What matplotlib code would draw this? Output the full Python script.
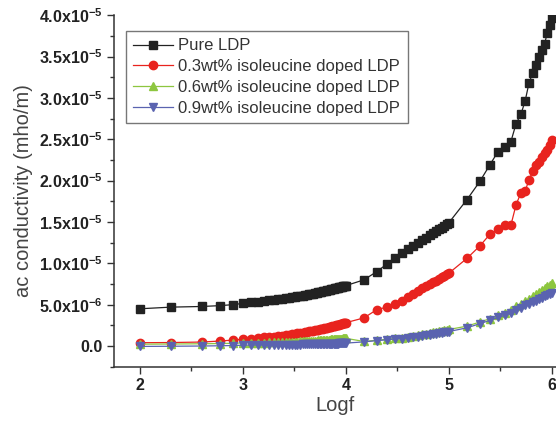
import numpy as np
import matplotlib
matplotlib.use("Agg")
import matplotlib.pyplot as plt
from matplotlib.ticker import MultipleLocator, FixedLocator

plt.rcParams["font.family"] = ["Liberation Sans", "DejaVu Sans"]
plt.rcParams["mathtext.fontset"] = "custom"
plt.rcParams["mathtext.rm"] = "Liberation Sans"
plt.rcParams["mathtext.bf"] = "Liberation Sans:bold"

# log10 of measuring frequency (Hz)
logf = [2.0, 2.301, 2.602, 2.778, 2.903, 3.0,
        3.079, 3.146, 3.204, 3.255, 3.301, 3.342, 3.380, 3.415, 3.447, 3.477,
        3.505, 3.531, 3.556, 3.580, 3.602, 3.623, 3.643, 3.663, 3.681, 3.699,
        3.716, 3.732, 3.748, 3.763, 3.778, 3.792, 3.806, 3.820, 3.833, 3.845,
        3.857, 3.869, 3.881, 3.892, 3.903, 3.914, 3.924, 3.934, 3.944, 3.954,
        3.964, 3.973, 3.982, 3.991, 4.0,
        4.176, 4.301, 4.398, 4.477, 4.544, 4.602, 4.653, 4.699, 4.740, 4.778,
        4.813, 4.845, 4.875, 4.903, 4.929, 4.954, 4.978, 5.0,
        5.176, 5.301, 5.398, 5.477, 5.544, 5.602, 5.653, 5.699, 5.740, 5.778,
        5.813, 5.845, 5.875, 5.903, 5.929, 5.954, 5.978, 6.0]

# ac conductivity in units of 1e-6 mho/m
pure = [4.5, 4.7, 4.78, 4.88, 5.0, 5.15,
        5.28, 5.38, 5.46, 5.53, 5.60, 5.66, 5.72, 5.78, 5.83, 5.88,
        5.94, 5.99, 6.04, 6.09, 6.14, 6.19, 6.24, 6.29, 6.33, 6.38,
        6.42, 6.47, 6.51, 6.55, 6.60, 6.64, 6.68, 6.72, 6.76, 6.80,
        6.84, 6.88, 6.92, 6.96, 7.00, 7.03, 7.06, 7.09, 7.12, 7.14,
        7.17, 7.20, 7.23, 7.26, 7.30,
        8.0, 9.0, 9.9, 10.6, 11.2, 11.7, 12.1, 12.5, 12.8, 13.1,
        13.4, 13.7, 13.9, 14.1, 14.3, 14.5, 14.7, 14.9,
        17.7, 19.9, 21.9, 23.5, 24.1, 24.7, 26.9, 28.0, 29.6, 31.8,
        33.0, 34.0, 35.0, 35.8, 36.5, 37.8, 38.8, 39.6]

doped_03 = [0.40, 0.42, 0.48, 0.60, 0.72, 0.82,
            0.90, 0.97, 1.03, 1.09, 1.15, 1.21, 1.27, 1.33, 1.38, 1.43,
            1.48, 1.53, 1.58, 1.63, 1.68, 1.72, 1.77, 1.81, 1.85, 1.89,
            1.93, 1.97, 2.01, 2.05, 2.09, 2.13, 2.17, 2.21, 2.25, 2.29,
            2.33, 2.37, 2.41, 2.45, 2.49, 2.53, 2.56, 2.60, 2.63, 2.67,
            2.70, 2.73, 2.76, 2.79, 2.82,
            3.4, 4.4, 4.7, 5.1, 5.5, 5.9, 6.3, 6.7, 7.0, 7.3,
            7.5, 7.7, 7.9, 8.1, 8.3, 8.5, 8.65, 8.8,
            10.6, 12.1, 13.5, 14.1, 14.6, 14.6, 17.1, 18.5, 18.7, 20.1,
            21.1, 21.9, 22.3, 22.9, 23.3, 23.7, 24.3, 24.9]

doped_06 = [0.22, 0.24, 0.27, 0.30, 0.33, 0.37,
            0.40, 0.41, 0.42, 0.44, 0.45, 0.46, 0.48, 0.49, 0.50, 0.52,
            0.53, 0.54, 0.56, 0.57, 0.58, 0.60, 0.61, 0.62, 0.64, 0.65,
            0.66, 0.68, 0.69, 0.70, 0.72, 0.73, 0.74, 0.76, 0.77, 0.78,
            0.80, 0.81, 0.82, 0.83, 0.84, 0.85, 0.86, 0.87, 0.88, 0.89,
            0.90, 0.91, 0.92, 0.92, 0.93,
            0.55, 0.7, 0.82, 0.92, 1.0, 1.1, 1.2, 1.3, 1.4, 1.5,
            1.6, 1.65, 1.7, 1.8, 1.85, 1.9, 1.95, 2.0,
            2.4, 2.9, 3.3, 3.7, 4.0, 4.4, 4.8, 5.1, 5.4, 5.7,
            6.0, 6.3, 6.5, 6.8, 7.0, 7.2, 7.4, 7.6]

doped_09 = [-0.05, -0.03, 0.0, 0.03, 0.06, 0.10,
            0.12, 0.13, 0.13, 0.14, 0.14, 0.15, 0.15, 0.16, 0.16, 0.17,
            0.17, 0.18, 0.18, 0.19, 0.19, 0.20, 0.20, 0.21, 0.21, 0.22,
            0.22, 0.23, 0.23, 0.24, 0.24, 0.25, 0.25, 0.26, 0.26, 0.27,
            0.27, 0.28, 0.28, 0.29, 0.29, 0.30, 0.30, 0.31, 0.31, 0.32,
            0.32, 0.33, 0.33, 0.34, 0.35,
            0.5, 0.65, 0.75, 0.85, 0.9, 1.0, 1.05, 1.15, 1.2, 1.3,
            1.35, 1.4, 1.5, 1.55, 1.6, 1.65, 1.7, 1.75,
            2.2, 2.7, 3.1, 3.45, 3.7, 4.0, 4.3, 4.6, 4.9, 5.1,
            5.3, 5.5, 5.7, 5.85, 6.0, 6.15, 6.3, 6.4]

labels = ["Pure LDP", "0.3wt% isoleucine doped LDP",
          "0.6wt% isoleucine doped LDP", "0.9wt% isoleucine doped LDP"]
yticks = [0.0, 5e-6, 1e-5, 1.5e-5, 2e-5, 2.5e-5, 3e-5, 3.5e-5, 4e-5]
ytick_labels = ["0.0", "5.0x10^{-6}", "1.0x10^{-5}", "1.5x10^{-5}",
                "2.0x10^{-5}", "2.5x10^{-5}", "3.0x10^{-5}",
                "3.5x10^{-5}", "4.0x10^{-5}"]

fig = plt.figure(figsize=(5.56, 4.21), dpi=100)
ax = fig.add_axes([0.205, 0.129, 0.795, 0.835])

x = np.array(logf)
styles = [("#222222", "s", 5.6), ("#e8231e", "o", 6.0),
          ("#8dc63f", "^", 6.0), ("#5a63b0", "v", 6.0)]
for ys, (c, m, ms), lab in zip([pure, doped_03, doped_06, doped_09], styles, labels):
    ax.plot(x, np.array(ys) * 1e-6, color=c, marker=m, markersize=ms,
            markeredgecolor=c, linewidth=0.9, label=lab)

ax.set_xlim(1.75, 6.04)
ax.set_ylim(-2.5e-6, 4.0e-5)
ax.xaxis.set_major_locator(MultipleLocator(1))
ax.xaxis.set_minor_locator(MultipleLocator(0.5))
ax.yaxis.set_major_locator(FixedLocator(yticks))
ax.yaxis.set_minor_locator(MultipleLocator(2.5e-6))
ax.set_yticklabels([r"$\mathbf{" + t + "}$" if "x" in t else t for t in ytick_labels])
for lbl in ax.get_yticklabels() + ax.get_xticklabels():
    lbl.set_fontweight("bold")
    lbl.set_color("#222222")
ax.tick_params(which="major", direction="out", length=5, width=1.0,
               labelsize=11.5, color="#333333")
ax.tick_params(which="minor", direction="out", length=3, width=1.0, color="#333333")

for side in ("top", "right"):
    ax.spines[side].set_visible(False)
for side in ("left", "bottom"):
    ax.spines[side].set_linewidth(1.1)
    ax.spines[side].set_color("#333333")

ax.set_xlabel("Logf", fontsize=14.5, color="#444444", labelpad=2)
ax.set_ylabel("ac conductivity (mho/m)", fontsize=14.5, color="#444444", labelpad=4)

leg = ax.legend(loc="upper left", bbox_to_anchor=(0.027, 0.955), borderaxespad=0,
                fontsize=12, handlelength=2.4, handletextpad=0.3,
                labelspacing=0.35, borderpad=0.45, fancybox=False, framealpha=1)
leg.get_frame().set_edgecolor("#777777")
leg.get_frame().set_linewidth(1.0)
for t in leg.get_texts():
    t.set_color("#333333")

fig.savefig("out.png", dpi=100)
